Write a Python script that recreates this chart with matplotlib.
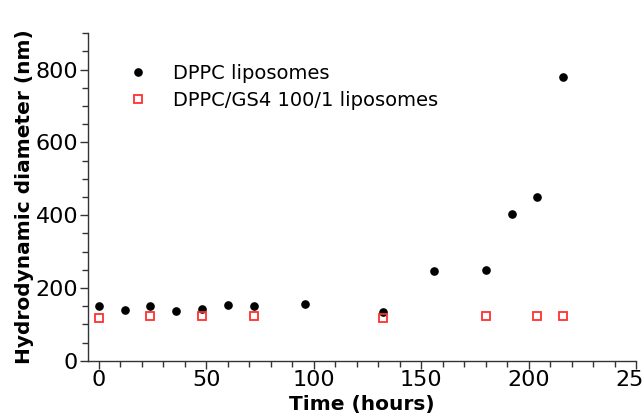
import numpy as np
import matplotlib
matplotlib.use('Agg')
import matplotlib.pyplot as plt
from matplotlib.ticker import MultipleLocator

# DPPC liposomes
t_dppc = [0, 12, 24, 36, 48, 60, 72, 96, 132, 156, 180, 192, 204, 216]
d_dppc = [150, 140, 150, 137, 141, 153, 150, 156, 133, 247, 250, 402, 450, 781]

# DPPC/GS4 100/1 liposomes
t_gs4 = [0, 24, 48, 72, 132, 180, 204, 216]
d_gs4 = [118, 124, 122, 124, 118, 124, 124, 124]

fig = plt.figure(figsize=(6.44, 4.19), dpi=100)
ax = fig.add_axes([0.1366, 0.1391, 0.988 - 0.1366, 0.9205 - 0.1391])

ax.plot(t_dppc, d_dppc, 'o', color='black', markersize=5.2,
        linestyle='none', label='DPPC liposomes', zorder=3)
ax.plot(t_gs4, d_gs4, 's', color='#ff3030', markerfacecolor='none',
        markeredgewidth=1.3, markersize=6.2, linestyle='none',
        label='DPPC/GS4 100/1 liposomes', zorder=4)

ax.set_xlim(-5, 250)
ax.set_ylim(0, 900)
ax.xaxis.set_major_locator(MultipleLocator(50))
ax.xaxis.set_minor_locator(MultipleLocator(10))
ax.yaxis.set_major_locator(MultipleLocator(200))
ax.yaxis.set_minor_locator(MultipleLocator(50))

for s in ['top', 'right']:
    ax.spines[s].set_visible(False)
for s in ['left', 'bottom']:
    ax.spines[s].set_color('#333333')
    ax.spines[s].set_linewidth(1.0)

ax.tick_params(which='major', length=6, width=1.0, color='#333333',
               labelsize=16, pad=1)
ax.tick_params(which='minor', length=4.3, width=1.0, color='#333333')

ax.set_xlabel('Time (hours)', fontsize=14.5, fontweight='bold', labelpad=3)
ax.set_ylabel('Hydrodynamic diameter (nm)', fontsize=14.5, fontweight='bold',
              labelpad=1)

ax.legend(loc='upper left', bbox_to_anchor=(0.041, 0.93), frameon=False,
          fontsize=14, labelspacing=0.4, handletextpad=0.8, borderaxespad=0)

fig.savefig('out.png', dpi=100)
